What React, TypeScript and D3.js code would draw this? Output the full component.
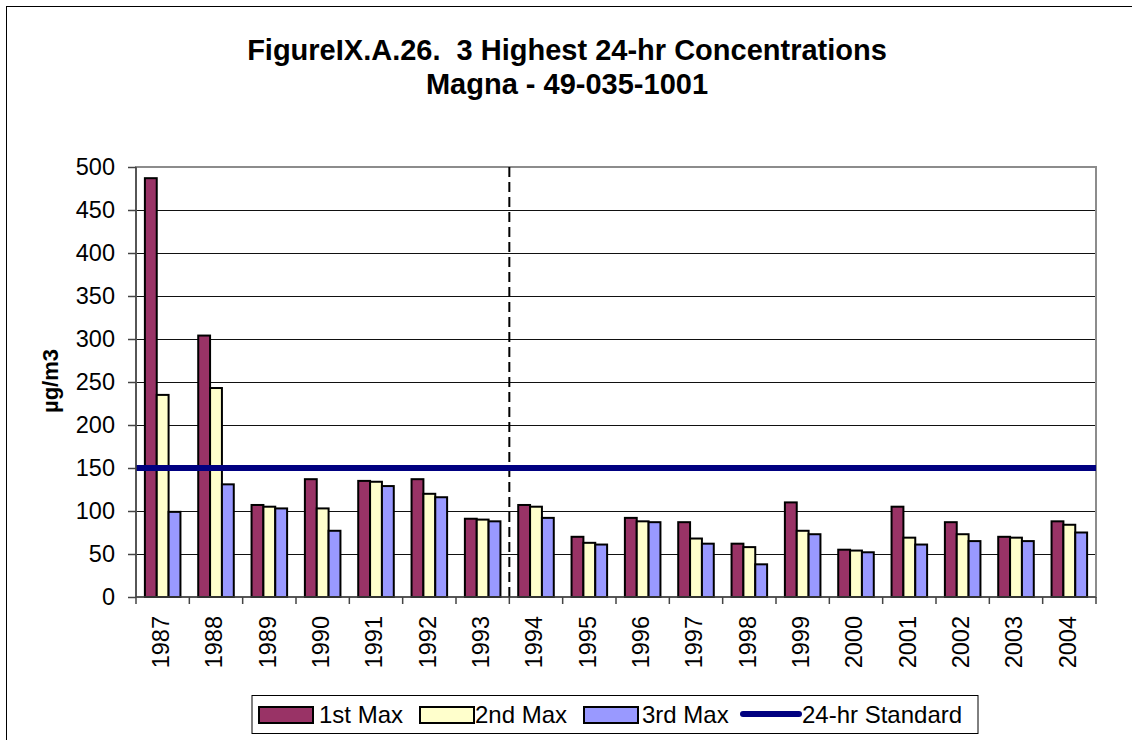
import * as d3 from 'd3';

const years = ['1987', '1988', '1989', '1990', '1991', '1992', '1993', '1994', '1995', '1996', '1997', '1998', '1999', '2000', '2001', '2002', '2003', '2004'];
const firstMax = [487, 304, 107, 137, 135, 137, 91, 107, 70, 92, 87, 62, 110, 55, 105, 87, 70, 88];
const secondMax = [235, 243, 105, 103, 134, 120, 90, 105, 63, 88, 68, 58, 77, 54, 69, 73, 69, 84];
const thirdMax = [99, 131, 103, 77, 129, 116, 88, 92, 61, 87, 62, 38, 73, 52, 61, 65, 65, 75];
const standard = 150;
const dividerAfter = '1993';
const yTicks = [0, 50, 100, 150, 200, 250, 300, 350, 400, 450, 500];

const seriesNames = ['1st Max', '2nd Max', '3rd Max'];
const seriesColors = ['#993366', '#FFFFCC', '#9999FF'];
const seriesValues = [firstMax, secondMax, thirdMax];

const FONT = 'Arial, "Liberation Sans", sans-serif';

export default function App() {
  const W = 1132;
  const H = 740;
  const plot = { left: 136, top: 167, right: 1096, bottom: 597 };

  const x = d3.scaleBand<string>()
    .domain(years)
    .range([plot.left, plot.right])
    .paddingInner(1 / 3)
    .paddingOuter(1 / 6);
  const step = x.step();
  const xs = d3.scaleBand<number>()
    .domain([0, 1, 2])
    .range([0, x.bandwidth()]);
  const y = d3.scaleLinear().domain([0, 500]).range([plot.bottom, plot.top]);
  const crisp = (v: number) => Math.round(v) + 0.5;

  const catStart = (yr: string) => (x(yr) as number) - step / 6;
  const dividerX = catStart(dividerAfter) + step;

  // legend layout
  const legendItems = [
    { kind: 'bar', label: seriesNames[0], color: seriesColors[0], sx: 259, tx: 319 },
    { kind: 'bar', label: seriesNames[1], color: seriesColors[1], sx: 420, tx: 475 },
    { kind: 'bar', label: seriesNames[2], color: seriesColors[2], sx: 584, tx: 642 },
    { kind: 'line', label: '24-hr Standard', color: '#000080', sx: 743, tx: 802 },
  ];

  return (
    <svg width={W} height={H} style={{ position: 'absolute', left: 0, top: 0, background: '#fff' }} fontFamily={FONT}>
      <rect x={6.5} y={6.5} width={1200} height={900} fill="#fff" stroke="#000" strokeWidth={1} />

      {/* Title */}
      <text x={567} y={60} textAnchor="middle" fontSize={29} fontWeight="bold" style={{ whiteSpace: 'pre' }}>
        {'FigureIX.A.26.  3 Highest 24-hr Concentrations'}
      </text>
      <text x={567} y={94} textAnchor="middle" fontSize={29} fontWeight="bold">
        Magna - 49-035-1001
      </text>

      {/* Gridlines */}
      {yTicks.filter(t => t > 0).map(t => (
        <line key={t} x1={plot.left} x2={plot.right} y1={crisp(y(t))} y2={crisp(y(t))} stroke="#111" strokeWidth={1} />
      ))}

      {/* Plot border */}
      <rect x={plot.left} y={plot.top} width={plot.right - plot.left} height={plot.bottom - plot.top}
        fill="none" stroke="#8c8c8c" strokeWidth={2} />

      {/* Bars */}
      {years.map((yr, i) => (
        <g key={yr}>
          {seriesValues.map((vals, s) => (
            <rect key={s}
              x={(x(yr) as number) + (xs(s) as number)}
              y={y(vals[i])}
              width={xs.bandwidth()}
              height={y(0) - y(vals[i])}
              fill={seriesColors[s]}
              stroke="#000"
              strokeWidth={2}
            />
          ))}
        </g>
      ))}

      {/* Divider */}
      <line x1={dividerX} x2={dividerX} y1={plot.top} y2={plot.bottom} stroke="#000" strokeWidth={2} strokeDasharray="10,5" />

      {/* Standard line */}
      <line x1={plot.left} x2={plot.right} y1={y(standard)} y2={y(standard)} stroke="#000080" strokeWidth={6} />

      {/* Y axis */}
      <line x1={plot.left} x2={plot.left} y1={plot.top} y2={plot.bottom} stroke="#444" strokeWidth={1.5} />
      {yTicks.map(t => (
        <g key={t}>
          <line x1={plot.left - 8} x2={plot.left} y1={crisp(y(t))} y2={crisp(y(t))} stroke="#444" strokeWidth={1.5} />
          <text x={115} y={y(t)} dy="0.36em" textAnchor="end" fontSize={23.5}>{t}</text>
        </g>
      ))}

      {/* X axis */}
      <line x1={plot.left} x2={plot.right} y1={plot.bottom} y2={plot.bottom} stroke="#444" strokeWidth={1.5} />
      {d3.range(years.length + 1).map(k => {
        const xx = plot.left + k * step;
        return <line key={k} x1={xx} x2={xx} y1={plot.bottom} y2={plot.bottom + 7} stroke="#444" strokeWidth={1.5} />;
      })}
      {years.map(yr => {
        const cx = (x(yr) as number) + x.bandwidth() / 2 - 2;
        return (
          <text key={yr} transform={`translate(${cx},616) rotate(-90)`} dy="0.36em" textAnchor="end" fontSize={23.5}>
            {yr}
          </text>
        );
      })}

      {/* Y axis title */}
      <text transform="translate(50,381) rotate(-90)" dy="0.36em" textAnchor="middle" fontSize={22} fontWeight="bold">
        µg/m3
      </text>

      {/* Legend */}
      <rect x={252} y={695.5} width={726} height={38} fill="#fff" stroke="#000" strokeWidth={1} />
      {legendItems.map(it => (
        <g key={it.label}>
          {it.kind === 'bar'
            ? <rect x={it.sx} y={707} width={54} height={16} fill={it.color} stroke="#000" strokeWidth={2} />
            : <line x1={it.sx} x2={it.sx + 56} y1={714} y2={714} stroke={it.color} strokeWidth={6} strokeLinecap="round" />}
          <text x={it.tx} y={714} dy="0.36em" fontSize={24}>{it.label}</text>
        </g>
      ))}
    </svg>
  );
}
